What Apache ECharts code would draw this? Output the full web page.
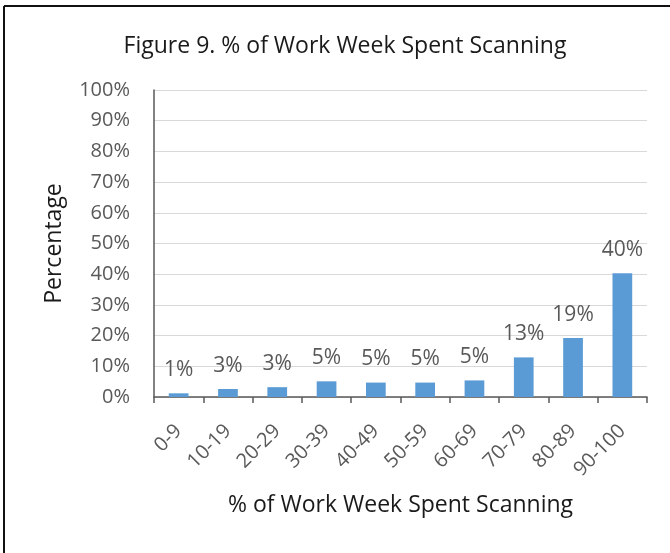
<!DOCTYPE html>
<html>
<head>
<meta charset="utf-8">
<script src="https://cdn.jsdelivr.net/npm/echarts@6/dist/echarts.min.js"></script>
<style>
html,body{margin:0;padding:0;background:#fff;}
#chart{width:670px;height:553px;}
</style>
</head>
<body>
<div id="chart"></div>
<script>
const categories = ['0-9','10-19','20-29','30-39','40-49','50-59','60-69','70-79','80-89','90-100'];
const values = [1.2, 2.6, 3.2, 5.1, 4.7, 4.7, 5.4, 12.9, 19.2, 40.3];
const yTicks = [0,10,20,30,40,50,60,70,80,90,100];

const FONT = '"Open Sans", "Noto Sans", sans-serif';
const chart = echarts.init(document.getElementById('chart'));
chart.setOption({
  backgroundColor: '#fff',
  animation: false,
  title: {
    text: 'Figure 9. % of Work Week Spent Scanning',
    left: 340, top: 30, textAlign: 'center',
    textStyle: {fontFamily: FONT, fontSize: 23, fontWeight: 'normal', color: '#1a1a1a'}
  },
  graphic: [
    {type: 'line', shape: {x1: 4, y1: 6, x2: 670, y2: 6}, style: {stroke: '#111', lineWidth: 2}},
    {type: 'line', shape: {x1: 4, y1: 6, x2: 4, y2: 553}, style: {stroke: '#111', lineWidth: 2}}
  ],
  grid: {left: 154, right: 23, top: 90, bottom: 156, containLabel: false},
  xAxis: {
    type: 'category',
    data: categories,
    name: '% of Work Week Spent Scanning',
    nameLocation: 'middle',
    nameGap: 97,
    nameTextStyle: {fontFamily: FONT, fontSize: 23, color: '#1a1a1a'},
    axisLine: {lineStyle: {color: '#595959', width: 1.5}},
    axisTick: {show: true, alignWithLabel: false, length: 6, lineStyle: {color: '#595959', width: 1.5}},
    axisLabel: {rotate: 45, margin: 31, fontFamily: FONT, fontSize: 20, color: '#595959'}
  },
  yAxis: {
    type: 'value',
    min: 0, max: 100, interval: 10,
    name: 'Percentage',
    nameLocation: 'middle',
    nameGap: 88,
    nameTextStyle: {fontFamily: FONT, fontSize: 23, color: '#1a1a1a'},
    axisLine: {show: true, lineStyle: {color: '#595959', width: 1.5}},
    axisTick: {show: false},
    splitLine: {lineStyle: {color: '#d9d9d9', width: 1}},
    axisLabel: {
      margin: 24, fontFamily: FONT, fontSize: 20, color: '#595959',
      formatter: v => yTicks.includes(v) ? v + '%' : ''
    }
  },
  series: [{
    type: 'bar',
    data: values,
    barWidth: '40%',
    itemStyle: {color: '#5b9bd5'},
    label: {
      show: true, position: 'top', distance: 13,
      fontFamily: FONT, fontSize: 21, color: '#595959',
      formatter: p => Math.round(p.value) + '%'
    }
  }]
});
</script>
</body>
</html>
